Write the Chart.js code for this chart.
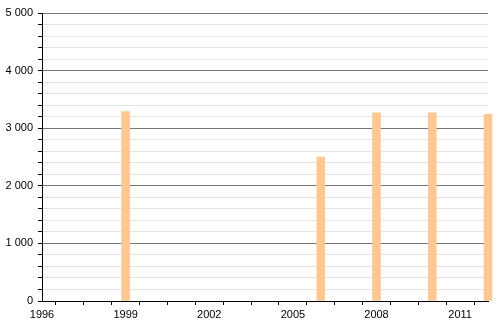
<!DOCTYPE html>
<html>
<head>
<meta charset="utf-8">
<script src="https://cdn.jsdelivr.net/npm/chart.js@4"></script>
<style>
  html,body{margin:0;padding:0;background:#fff;}
  #wrap{width:500px;height:320px;}
</style>
</head>
<body>
<div id="wrap"><canvas id="chart" width="500" height="320"></canvas></div>
<script>
/* ------------- DATA ------------- */
const years  = [1999, 2006, 2008, 2010, 2012];
const values = [3290, 2500, 3265, 3265, 3240];
const yearTickLabels = [1996, 1999, 2002, 2005, 2008, 2011];
const valueTickLabels = [0, 1000, 2000, 3000, 4000, 5000];

/* ------------- CHART ------------- */
const fmt = v => String(v).replace(/\B(?=(\d{3})+(?!\d))/g, " ");

new Chart(document.getElementById("chart").getContext("2d"), {
  type: "bar",
  data: {
    datasets: [{
      data: years.map((y, i) => ({x: y, y: values[i]})),
      backgroundColor: "#fdc892",
      barThickness: 8,
      clip: false
    }]
  },
  options: {
    responsive: false,
    animation: false,
    layout: {padding: {top: 13, right: 12, left: 0, bottom: 0}},
    plugins: {legend: {display: false}, tooltip: {enabled: false}},
    scales: {
      x: {
        type: "linear",
        min: 1996,
        max: 2012,
        offset: false,
        border: {color: "#000", width: 1},
        grid: {drawOnChartArea: false, color: "#000", tickLength: 4},
        ticks: {
          stepSize: 1,
          autoSkip: false,
          maxRotation: 0,
          color: "#000",
          font: {family: "Liberation Sans", size: 11},
          padding: 3,
          callback: v => yearTickLabels.includes(v) ? String(v) : ""
        },
        afterFit: s => { s.height = 19; }
      },
      y: {
        min: 0,
        max: 5000,
        border: {color: "#000", width: 1},
        grid: {
          color: c => c.tick && c.tick.value % 1000 === 0 ? "#777" : "#e4e4e4",
          tickColor: "#000",
          tickLength: 4
        },
        ticks: {
          stepSize: 200,
          autoSkip: false,
          color: "#000",
          font: {family: "Liberation Sans", size: 11},
          padding: 5,
          callback: v => valueTickLabels.includes(v) ? fmt(v) : ""
        },
        afterFit: s => { s.width = 42; }
      }
    }
  }
});
</script>
</body>
</html>
